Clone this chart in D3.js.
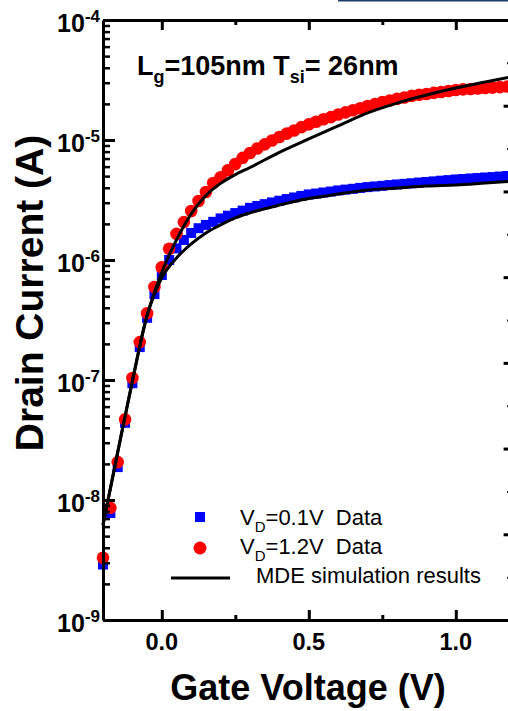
<!DOCTYPE html>
<html><head><meta charset="utf-8">
<script src="https://cdn.jsdelivr.net/npm/d3@7"></script>
<style>
body{margin:0;background:#fff}
svg{display:block}
text{font-family:"Liberation Sans",Arial,Helvetica,sans-serif}
</style>
</head><body>
<svg id="c" width="508" height="711"></svg>
<script>
// ---------- data ----------
const gateVoltage = [-0.2,-0.175,-0.15,-0.125,-0.1,-0.075,-0.05,-0.025,0,0.025,0.05,0.075,0.1,0.125,0.15,0.175,0.2,0.225,0.25,0.275,0.3,0.325,0.35,0.375,0.4,0.425,0.45,0.475,0.5,0.525,0.55,0.575,0.6,0.625,0.65,0.675,0.7,0.725,0.75,0.775,0.8,0.825,0.85,0.875,0.9,0.925,0.95,0.975,1.0,1.025,1.05,1.075,1.1,1.125,1.15,1.175,1.2];
const drainVD01 = [2.9e-9,7.8e-9,1.88e-8,4.4e-8,9.4e-8,1.88e-7,3.3e-7,5.2e-7,7.5e-7,1.0e-6,1.25e-6,1.47e-6,1.68e-6,1.84e-6,1.96e-6,2.08e-6,2.22e-6,2.34e-6,2.46e-6,2.58e-6,2.72e-6,2.82e-6,2.92e-6,3.02e-6,3.12e-6,3.22e-6,3.32e-6,3.42e-6,3.52e-6,3.58e-6,3.65e-6,3.72e-6,3.80e-6,3.86e-6,3.92e-6,3.99e-6,4.05e-6,4.10e-6,4.15e-6,4.21e-6,4.26e-6,4.31e-6,4.36e-6,4.42e-6,4.47e-6,4.52e-6,4.58e-6,4.63e-6,4.69e-6,4.73e-6,4.78e-6,4.82e-6,4.87e-6,4.91e-6,4.96e-6,5.01e-6,5.06e-6];
const drainVD12 = [3.3e-9,8.6e-9,2.07e-8,4.7e-8,1.04e-7,2.07e-7,3.6e-7,5.96e-7,8.7e-7,1.24e-6,1.65e-6,2.07e-6,2.56e-6,3.1e-6,3.69e-6,4.38e-6,4.9e-6,5.6e-6,6.3e-6,7.1e-6,7.8e-6,8.5e-6,9.2e-6,9.9e-6,1.06e-5,1.13e-5,1.2e-5,1.28e-5,1.35e-5,1.42e-5,1.49e-5,1.55e-5,1.63e-5,1.70e-5,1.77e-5,1.84e-5,1.92e-5,1.99e-5,2.07e-5,2.13e-5,2.20e-5,2.26e-5,2.33e-5,2.38e-5,2.42e-5,2.47e-5,2.51e-5,2.56e-5,2.61e-5,2.64e-5,2.66e-5,2.69e-5,2.71e-5,2.73e-5,2.76e-5,2.79e-5,2.82e-5];
const simVoltage = [-0.2,-0.15,-0.1,-0.05,-0.025,0,0.05,0.1,0.15,0.2,0.25,0.3,0.4,0.5,0.6,0.7,0.8,0.9,1.0,1.1,1.2];
const simVD01 = [6.2e-9,2.5e-8,9.8e-8,3.45e-7,5.2e-7,7.1e-7,1.04e-6,1.36e-6,1.68e-6,1.96e-6,2.24e-6,2.47e-6,2.87e-6,3.25e-6,3.55e-6,3.83e-6,3.98e-6,4.14e-6,4.22e-6,4.38e-6,4.55e-6];
const simVD12 = [6.2e-9,2.5e-8,9.8e-8,3.45e-7,5.4e-7,7.9e-7,1.47e-6,2.42e-6,3.45e-6,4.35e-6,5.15e-6,5.9e-6,7.9e-6,1.02e-5,1.31e-5,1.68e-5,2.03e-5,2.37e-5,2.71e-5,3.04e-5,3.41e-5];

const xMajorTicks = [0.0, 0.5, 1.0];
const xMajorLabels = ["0.0", "0.5", "1.0"];
const xMinorTicks = [0.25, 0.75];
const yDecades = [1e-9, 1e-8, 1e-7, 1e-6, 1e-5, 1e-4];
const yDecadeExponents = ["-9", "-8", "-7", "-6", "-5", "-4"];
const rightMajorTicks = [1, 2, 3, 4, 5, 6];
const rightMinorTicks = [0.5, 1.5, 2.5, 3.5, 4.5, 5.5, 6.5];
const legendNames = ["=0.1V  Data", "=1.2V  Data", "MDE simulation results"];
const xTitle = "Gate Voltage (V)";
const yTitle = "Drain Current (A)";

// ---------- scales ----------
const svg = d3.select("#c");
const x = d3.scaleLinear().domain([-0.2, 1.2]).range([103, 514.6]);
const y = d3.scaleLog().domain([1e-9, 1e-4]).range([620, 20]);
const yRight = d3.scaleLinear().domain([0, 7]).range([620, 20]);

const yMinor = [];
yDecades.slice(0, -1).forEach(d => { for (let k = 2; k <= 9; k++) yMinor.push(d * k); });

// decorative border of neighbouring panel
svg.append("line").attr("x1", 338).attr("x2", 508).attr("y1", 0.8).attr("y2", 0.8)
  .attr("stroke", "#1f3c6e").attr("stroke-width", 1.6);

// ---------- marks ----------
const pts01 = gateVoltage.map((v, i) => [v, drainVD01[i]]);
const pts12 = gateVoltage.map((v, i) => [v, drainVD12[i]]);

svg.append("g").selectAll("rect").data(pts01).join("rect")
  .attr("x", d => x(d[0]) - 5).attr("y", d => y(d[1]) - 5)
  .attr("width", 10).attr("height", 10).attr("fill", "#0000ff");

svg.append("g").selectAll("circle").data(pts12).join("circle")
  .attr("cx", d => x(d[0])).attr("cy", d => y(d[1])).attr("r", 6.3)
  .attr("fill", "#ff0000");

const line = d3.line().x(d => x(d[0])).y(d => y(d[1])).curve(d3.curveMonotoneX);
[simVD01, simVD12].forEach(s => {
  svg.append("path").datum(simVoltage.map((v, i) => [v, s[i]]))
    .attr("d", line).attr("fill", "none").attr("stroke", "#000").attr("stroke-width", 3);
});

// ---------- axes ----------
function styleAxis(g, w) {
  g.select(".domain").attr("stroke", "#000").attr("stroke-width", 3);
  g.selectAll(".tick line").attr("stroke", "#000").attr("stroke-width", w);
  g.selectAll(".tick text").remove();
}
// left
svg.append("g").attr("transform", "translate(103,0)")
  .call(d3.axisRight(y).tickValues(yMinor).tickSize(7).tickSizeOuter(0).tickFormat(""))
  .call(g => styleAxis(g, 2.5));
const gLeft = svg.append("g").attr("transform", "translate(103,0)")
  .call(d3.axisRight(y).tickValues(yDecades).tickSize(12).tickSizeOuter(0).tickFormat(""))
  .call(g => styleAxis(g, 3));
gLeft.select(".domain").remove();
// top
svg.append("g").attr("transform", "translate(0,20)")
  .call(d3.axisBottom(x).tickValues(xMajorTicks).tickSize(10).tickSizeOuter(0).tickFormat(""))
  .call(g => styleAxis(g, 3));
svg.append("g").attr("transform", "translate(0,20)")
  .call(d3.axisBottom(x).tickValues(xMinorTicks).tickSize(5).tickSizeOuter(0).tickFormat(""))
  .call(g => styleAxis(g, 3));
// bottom
svg.append("g").attr("transform", "translate(0,620)")
  .call(d3.axisTop(x).tickValues(xMajorTicks).tickSize(10).tickSizeOuter(0).tickFormat(""))
  .call(g => styleAxis(g, 3));
svg.append("g").attr("transform", "translate(0,620)")
  .call(d3.axisTop(x).tickValues(xMinorTicks).tickSize(5).tickSizeOuter(0).tickFormat(""))
  .call(g => styleAxis(g, 3));
// right (mostly outside the frame)
svg.append("g").attr("transform", "translate(514.6,0)")
  .call(d3.axisLeft(yRight).tickValues(rightMajorTicks).tickSize(11).tickSizeOuter(0).tickFormat(""))
  .call(g => styleAxis(g, 3));
svg.append("g").attr("transform", "translate(514.6,0)")
  .call(d3.axisLeft(yRight).tickValues(rightMinorTicks).tickSize(7.5).tickSizeOuter(0).tickFormat(""))
  .call(g => styleAxis(g, 2));

// left tick labels
yDecades.forEach((d, i) => {
  const t = svg.append("text").attr("x", 100).attr("y", y(d) + 12)
    .attr("text-anchor", "end").attr("font-weight", "bold").attr("font-size", 25).attr("fill", "#000");
  t.append("tspan").text("10");
  t.append("tspan").attr("dy", -10).attr("font-size", 17).text(yDecadeExponents[i]);
});
// bottom tick labels
xMajorTicks.forEach((v, i) => {
  svg.append("text").attr("x", x(v)).attr("y", 649.5).attr("text-anchor", "middle")
    .attr("font-weight", "bold").attr("font-size", 23.5).attr("fill", "#000").text(xMajorLabels[i]);
});

// titles
svg.append("text").attr("x", 308).attr("y", 700).attr("text-anchor", "middle")
  .attr("font-weight", "bold").attr("font-size", 36).text(xTitle);
svg.append("text").attr("transform", "translate(43,293) rotate(-90)").attr("text-anchor", "middle")
  .attr("font-weight", "bold").attr("font-size", 39).text(yTitle);

// annotation
const ann = svg.append("text").attr("x", 137).attr("y", 75).attr("font-weight", "bold")
  .attr("font-size", 27).attr("fill", "#000");
ann.append("tspan").text("L");
ann.append("tspan").attr("dy", 8).attr("font-size", 18).text("g");
ann.append("tspan").attr("dy", -8).text("=105nm T");
ann.append("tspan").attr("dy", 8).attr("font-size", 18).text("si");
ann.append("tspan").attr("dy", -8).text("= 26nm");

// legend
svg.append("rect").attr("x", 195).attr("y", 512).attr("width", 10).attr("height", 10).attr("fill", "#0000ff");
svg.append("circle").attr("cx", 200).attr("cy", 548).attr("r", 6.5).attr("fill", "#ff0000");
svg.append("line").attr("x1", 171).attr("x2", 230).attr("y1", 578).attr("y2", 578)
  .attr("stroke", "#000").attr("stroke-width", 3);
[0, 1].forEach(i => {
  const t = svg.append("text").attr("x", 240).attr("y", 525 + i * 28.5).attr("font-size", 22)
    .attr("fill", "#000").style("white-space", "pre");
  t.append("tspan").text("V");
  t.append("tspan").attr("dy", 7).attr("font-size", 15).text("D");
  t.append("tspan").attr("dy", -7).text(legendNames[i]);
});
svg.append("text").attr("x", 256).attr("y", 583).attr("font-size", 22).attr("fill", "#000").text(legendNames[2]);
</script>
</body></html>
